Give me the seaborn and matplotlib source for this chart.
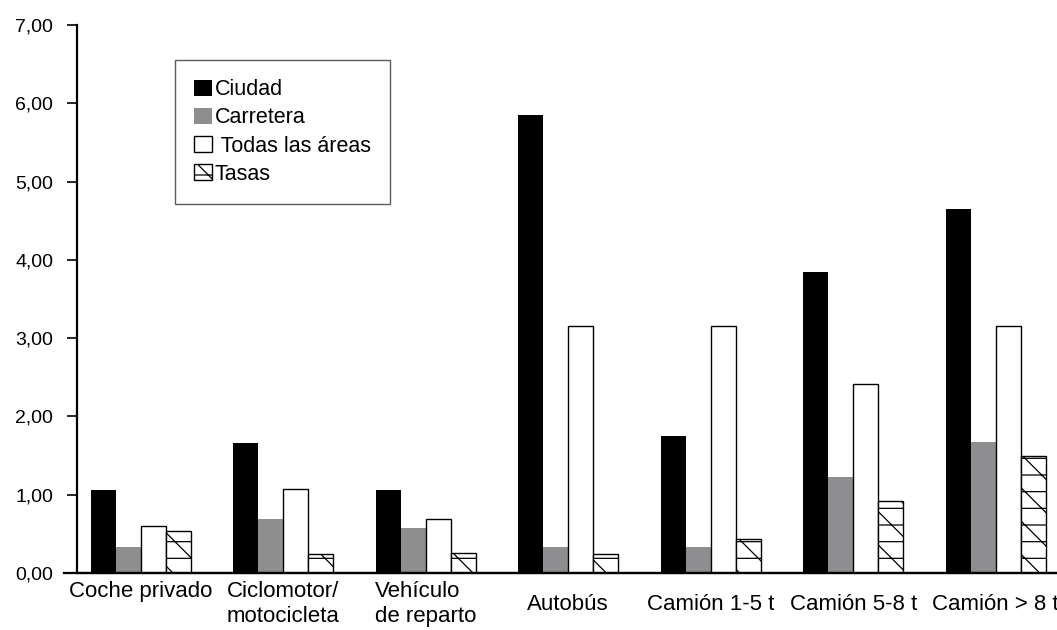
import pandas as pd
import matplotlib.pyplot as plt
import seaborn as sns
from matplotlib.ticker import FuncFormatter

plt.rcParams['font.family'] = ['Liberation Sans', 'DejaVu Sans']
plt.rcParams['hatch.linewidth'] = 0.9

# data
vehicles = ['Coche privado', 'Ciclomotor/\nmotocicleta', 'Vehículo\nde reparto', 'Autobús',
            'Camión 1-5 t', 'Camión 5-8 t', 'Camión > 8 t']
ciudad = [1.06, 1.66, 1.06, 5.85, 1.75, 3.84, 4.65]
carretera = [0.33, 0.69, 0.58, 0.33, 0.33, 1.23, 1.67]
todas = [0.60, 1.07, 0.69, 3.15, 3.15, 2.41, 3.15]
tasas = [0.53, 0.24, 0.26, 0.24, 0.43, 0.92, 1.50]
series = ['Ciudad', 'Carretera', 'Todas las áreas', 'Tasas']

df = pd.DataFrame({
    'vehiculo': vehicles * 4,
    'serie': [s for s in series for _ in vehicles],
    'valor': ciudad + carretera + todas + tasas,
})

colors = {'Ciudad': 'black', 'Carretera': '#8e8e90', 'Todas las áreas': 'white', 'Tasas': 'white'}

fig = plt.figure(figsize=(10.57, 6.30), dpi=100)
ax = fig.add_axes([0.0728, 0.0905, 0.9272, 0.8698])

sns.barplot(data=df, x='vehiculo', y='valor', hue='serie', palette=colors,
            width=0.70, gap=0, saturation=1, legend=False, ax=ax)

# outlines and hatch
for name, cont in zip(series, ax.containers):
    for bar in cont:
        if name in ('Todas las áreas', 'Tasas'):
            bar.set_edgecolor('black')
            bar.set_linewidth(1.0)
        else:
            bar.set_edgecolor('none')
            bar.set_linewidth(0)
        if name == 'Tasas':
            bar.set_hatch('\\-')

ax.set_xlim(-0.447, 6.43)
ax.set_ylim(0, 7)
ax.set_yticks(range(0, 8))
ax.yaxis.set_major_formatter(FuncFormatter(lambda v, p: f'{v:.2f}'.replace('.', ',')))
ax.set_xlabel('')
ax.set_ylabel('')

for s in ['top', 'right']:
    ax.spines[s].set_visible(False)
ax.spines['left'].set_linewidth(1.6)
ax.spines['bottom'].set_linewidth(1.6)
ax.axhline(0, xmin=-0.013, xmax=1, color='black', lw=1.6, clip_on=False, zorder=5)

ax.tick_params(axis='y', length=7, width=1.2, labelsize=14, pad=10)
ax.tick_params(axis='x', length=0, labelsize=16)
for i, tick in enumerate(ax.xaxis.get_major_ticks()):
    tick.set_pad(6 if i < 3 else 15)
for lab in ax.get_xticklabels():
    lab.set_multialignment('left')

leg = ax.legend(ax.containers, ['Ciudad', 'Carretera', ' Todas las áreas', 'Tasas'],
                loc='upper left', bbox_to_anchor=(175 / 1057, 1 - 60 / 630),
                bbox_transform=fig.transFigure, fontsize=15.5, frameon=True, fancybox=False,
                handlelength=0.8, handleheight=0.8, handletextpad=0.15, labelspacing=0.33,
                borderpad=0.9, borderaxespad=0)
leg.get_frame().set_edgecolor('#333333')
leg.get_frame().set_linewidth(1.0)

fig.savefig('out.png', dpi=100)
